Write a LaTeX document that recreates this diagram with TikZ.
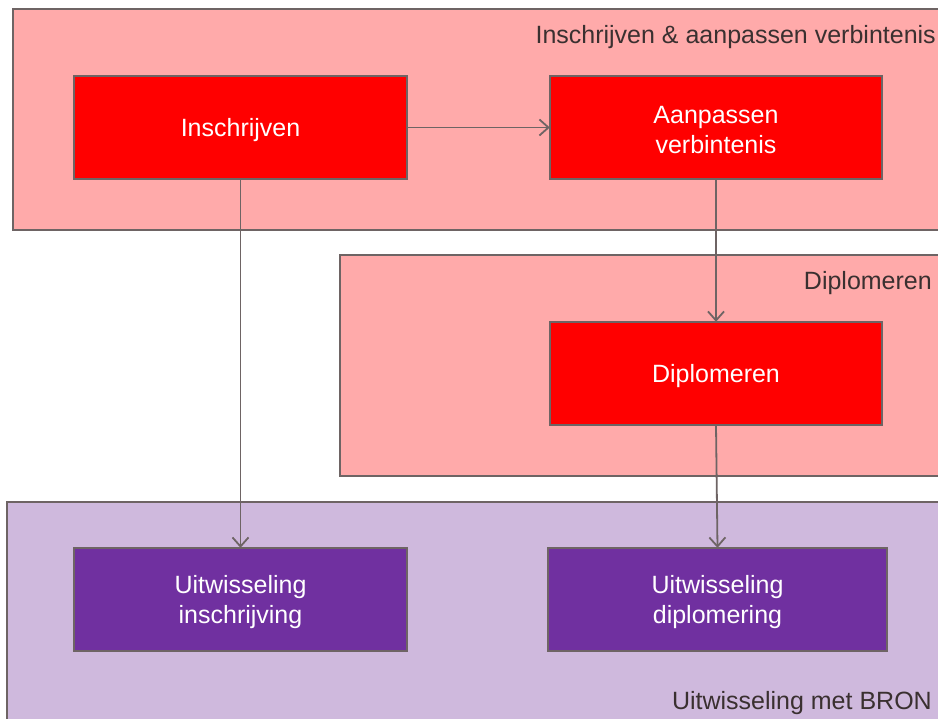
\documentclass[tikz,border=0pt]{standalone}
\usepackage{fontspec}
\setmainfont{Liberation Sans}
\usetikzlibrary{arrows.meta}
\definecolor{pinkbg}{HTML}{FFAAAA}
\definecolor{lavbg}{HTML}{CFB9DD}
\definecolor{redbox}{HTML}{FF0000}
\definecolor{purplebox}{HTML}{7030A0}
\definecolor{edge}{HTML}{6E6464}
\definecolor{labeltxt}{HTML}{3A3030}
\tikzset{
  container/.style={draw=edge, line width=1.8pt},
  boxfill/.style={draw=edge, line width=1.8pt},
  boxtext/.style={font=\fontsize{25}{30}\selectfont, text=white, align=center,
    inner sep=0pt, minimum height=103pt, yshift=-2.5pt},
  grouplabel/.style={text=labeltxt, anchor=east, font=\fontsize{25}{30}\selectfont, inner sep=0pt, yshift=-3pt},
  conn/.style={draw=edge, line width=1.8pt, -{Straight Barb[length=9pt,width=16pt,line width=1.8pt]}}
}
\begin{document}
\begin{tikzpicture}[x=1pt,y=-1pt]
\useasboundingbox (0,0) rectangle (938,719);
\fill[white] (0,0) rectangle (938,719);
\begin{scope}
\clip (0,0) rectangle (938,719);
\draw[container, fill=pinkbg] (13,9) rectangle (960,230);
\draw[container, fill=pinkbg] (340,255) rectangle (960,476);
\draw[container, fill=lavbg] (7,502) rectangle (960,740);
\end{scope}
\node[grouplabel] (lab1) at (936,34) {Inschrijven \& aanpassen verbintenis};
\node[grouplabel] (lab2) at (932,280) {Diplomeren};
\node[grouplabel] (lab3) at (932,700) {Uitwisseling met BRON};

\path[boxfill, fill=redbox] (74,76) rectangle (407,179);
\node[boxtext, minimum width=333pt] (ins) at (240.5,127.5) {Inschrijven};

\path[boxfill, fill=redbox] (550,76) rectangle (882,179);
\node[boxtext, minimum width=332pt] (aan) at (716,127.5) {Aanpassen\\verbintenis};

\path[boxfill, fill=redbox] (550,322) rectangle (882,425);
\node[boxtext, minimum width=332pt] (dip) at (716,373.5) {Diplomeren};

\path[boxfill, fill=purplebox] (74,548) rectangle (407,651);
\node[boxtext, minimum width=333pt] (uins) at (240.5,599.5) {Uitwisseling\\inschrijving};

\path[boxfill, fill=purplebox] (548,548) rectangle (887,651);
\node[boxtext, minimum width=339pt] (udip) at (717.5,599.5) {Uitwisseling\\diplomering};

\draw[conn] ([yshift=2.5pt]ins.east) -- ([yshift=2.5pt]aan.west);
\draw[conn] ([yshift=2.5pt]ins.south) -- ([yshift=2.5pt]uins.north);
\draw[conn] ([yshift=2.5pt]aan.south) -- ([yshift=2.5pt]dip.north);
\draw[conn] ([yshift=2.5pt]dip.south) -- ([yshift=2.5pt]udip.north);
\end{tikzpicture}
\end{document}
